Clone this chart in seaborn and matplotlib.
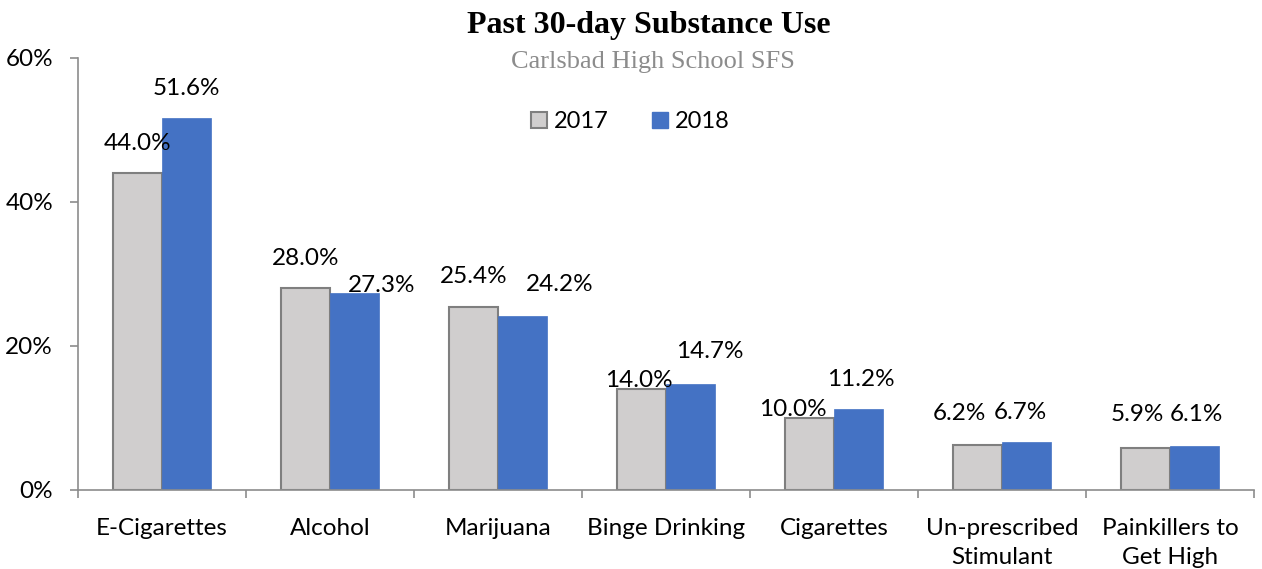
import matplotlib
matplotlib.use("Agg")
import matplotlib.pyplot as plt
from matplotlib.ticker import FixedLocator, FuncFormatter
from matplotlib.lines import Line2D
import seaborn as sns
import pandas as pd
import numpy as np

categories = ["E-Cigarettes", "Alcohol", "Marijuana", "Binge Drinking", "Cigarettes",
              "Un-prescribed\nStimulant", "Painkillers to\nGet High"]
years = ["2017", "2018"]
values_2017 = [44.0, 28.0, 25.4, 14.0, 10.0, 6.2, 5.9]
values_2018 = [51.6, 27.3, 24.2, 14.7, 11.2, 6.7, 6.1]
# label nudges (pixels) to mimic the reference's label placement
dx_2017 = [0, 0, 0, -3, -17, -18, -8]
dy_2017 = [30, 30, 31, 9, 9, 32, 33]
dx_2018 = [0, 27, 37, 19, 2, -6, 2]
dy_2018 = [30, 8, 31, 33, 30, 29, 32]

df = pd.DataFrame({
    "category": categories * 2,
    "year": [years[0]] * len(categories) + [years[1]] * len(categories),
    "value": values_2017 + values_2018,
})

sns.set_theme(style="white")
plt.rcParams["font.family"] = ["Lato", "DejaVu Sans"]
plt.rcParams["text.color"] = "black"

FS = 17.5

fig = plt.figure(figsize=(12.62, 5.69), dpi=100)
ax = fig.add_axes([78/1262, 1-490/569, (1254-78)/1262, (490-58)/569])

gray = "#D0CECE"
blue = "#4472C4"
sns.barplot(data=df, x="category", y="value", hue="year", palette=[gray, blue],
            width=0.58, ax=ax, legend=False, saturation=1)

cont17, cont18 = ax.containers[0], ax.containers[1]
for p in cont17:
    p.set_edgecolor("#7F7F7F")
    p.set_linewidth(1.5)
for p in cont18:
    p.set_edgecolor(blue)
    p.set_linewidth(0.5)

ax.set_ylim(0, 60)
ax.set_xlim(-0.5, len(categories) - 0.5)
ax.yaxis.set_major_locator(FixedLocator([0, 20, 40, 60]))
ax.yaxis.set_major_formatter(FuncFormatter(lambda v, _: f"{v:.0f}%"))
ax.set_xlabel("")
ax.set_ylabel("")

for s in ["top", "right"]:
    ax.spines[s].set_visible(False)
for s in ["left", "bottom"]:
    ax.spines[s].set_color("#8C8C8C")
    ax.spines[s].set_linewidth(1.2)

ax.tick_params(axis="y", which="major", length=6, width=1.2, color="#8C8C8C",
               direction="out", left=True, labelsize=FS, pad=12, labelcolor="black")
ax.set_xticks(range(len(categories)))
ax.set_xticklabels(categories, fontsize=FS, color="black", linespacing=1.5)
ax.tick_params(axis="x", which="major", length=0, pad=20)
ax.xaxis.set_minor_locator(FixedLocator(np.arange(-0.5, len(categories), 1.0)))
ax.tick_params(axis="x", which="minor", length=6, width=1.2, color="#8C8C8C",
               direction="out", bottom=True)

px2pt = 72 / 100
for cont, vals, dxs, dys in [(cont17, values_2017, dx_2017, dy_2017),
                             (cont18, values_2018, dx_2018, dy_2018)]:
    for p, v, dx, dy in zip(cont, vals, dxs, dys):
        xc = p.get_x() + p.get_width() / 2
        ax.annotate(f"{v:.1f}%", (xc, p.get_height()), xytext=(dx * px2pt, dy * px2pt),
                    textcoords="offset points", ha="center", va="center",
                    fontsize=FS, color="black", annotation_clip=False)

handles = [Line2D([], [], marker="s", linestyle="none", markersize=11,
                  markerfacecolor=gray, markeredgecolor="#7F7F7F", markeredgewidth=1.5),
           Line2D([], [], marker="s", linestyle="none", markersize=11,
                  markerfacecolor=blue, markeredgecolor=blue)]
fig.legend(handles, years, loc="center", bbox_to_anchor=(630/1262, 1-122/569),
           ncol=2, frameon=False, fontsize=17, handlelength=0.7, handletextpad=0.3,
           columnspacing=1.8)

fig.text(649/1262, 1-25/569, "Past 30-day Substance Use", ha="center", va="center",
         fontsize=23, fontweight="bold", color="black",
         family=["Liberation Serif", "DejaVu Serif"])
fig.text(653/1262, 1-62/569, "Carlsbad High School SFS", ha="center", va="center",
         fontsize=19, color="#8C8C8C", family=["Liberation Serif", "DejaVu Serif"])

fig.savefig("out.png", dpi=100)
